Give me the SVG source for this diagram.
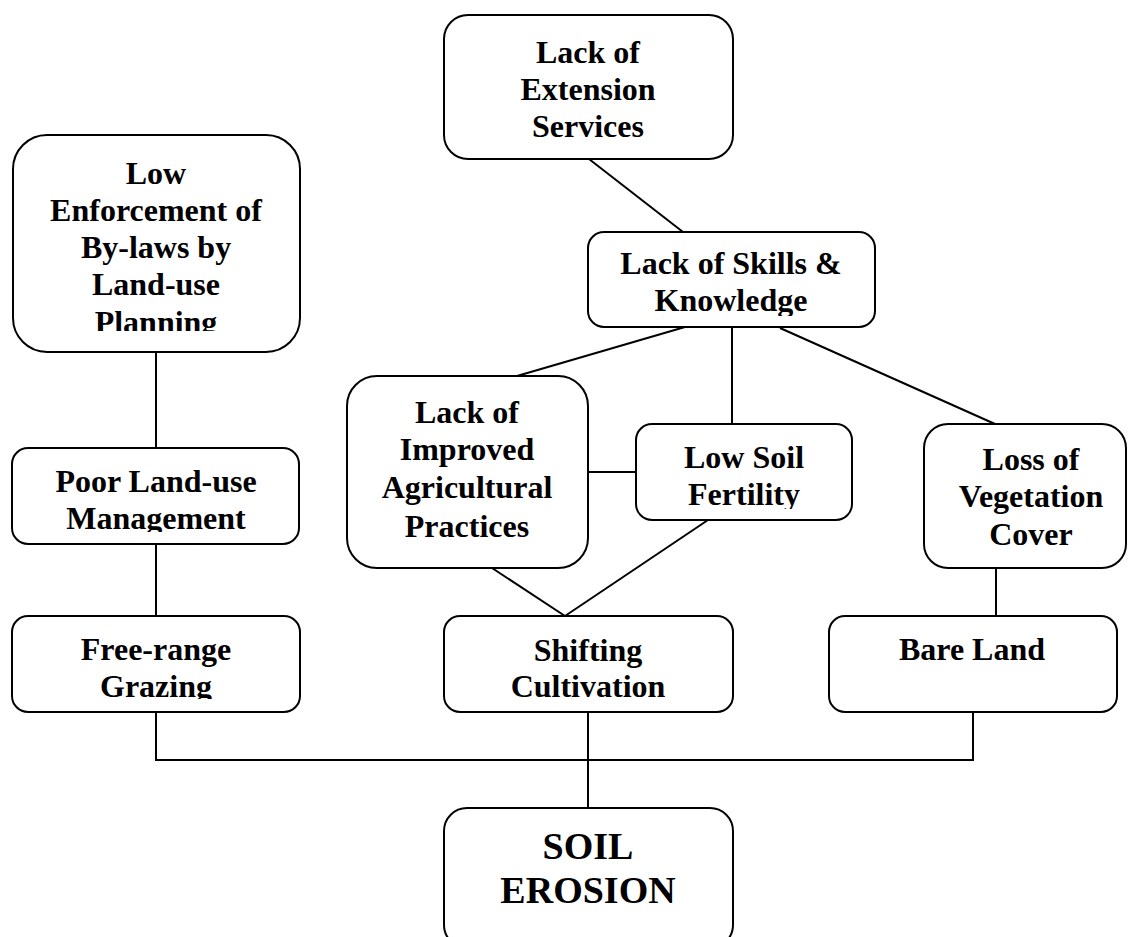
<svg xmlns="http://www.w3.org/2000/svg" width="1128" height="937" viewBox="0 0 1128 937">
<style>
.box{fill:#fff;stroke:#000;stroke-width:2}
.t{font-family:"Liberation Serif","Times New Roman",serif;font-weight:bold;font-size:32px;fill:#000;text-anchor:middle}
.big{font-size:38px}
.c{fill:none;stroke:#000;stroke-width:2}
</style>
<defs>
<clipPath id="cpLE"><rect x="0" y="130" width="320" height="201"/></clipPath>
<clipPath id="cpSK"><rect x="580" y="225" width="300" height="91"/></clipPath>
<clipPath id="cpLS"><rect x="630" y="420" width="230" height="89"/></clipPath>
<clipPath id="cpPL"><rect x="0" y="440" width="320" height="92"/></clipPath>
<clipPath id="cpFR"><rect x="0" y="610" width="320" height="89"/></clipPath>
</defs>
<rect width="1128" height="937" fill="#fff"/>
<g id="connectors">
<line class="c" x1="589" y1="159" x2="683" y2="232"/>
<line class="c" x1="156" y1="352" x2="156" y2="448"/>
<line class="c" x1="156" y1="544" x2="156" y2="616"/>
<line class="c" x1="685" y1="327" x2="517" y2="376"/>
<line class="c" x1="732" y1="327" x2="732" y2="424"/>
<line class="c" x1="780" y1="328" x2="995" y2="424"/>
<line class="c" x1="588" y1="472" x2="636" y2="472"/>
<line class="c" x1="492" y1="568" x2="565" y2="616"/>
<line class="c" x1="708" y1="520" x2="565" y2="616"/>
<line class="c" x1="996" y1="568" x2="996" y2="616"/>
<polyline class="c" points="156,712 156,760 973,760 973,712"/>
<line class="c" x1="588" y1="712" x2="588" y2="808"/>
</g>
<g id="n-extension">
<rect class="box" x="444" y="15" width="289" height="144" rx="24"/>
<text class="t" x="588" y="63">Lack of</text>
<text class="t" x="588" y="100">Extension</text>
<text class="t" x="588" y="137">Services</text>
</g>
<g id="n-enforcement">
<rect class="box" x="13" y="135" width="287" height="217" rx="34"/>
<g clip-path="url(#cpLE)">
<text class="t" x="156" y="184">Low</text>
<text class="t" x="156" y="221">Enforcement of</text>
<text class="t" x="156" y="258">By-laws by</text>
<text class="t" x="156" y="295">Land-use</text>
<text class="t" x="156" y="333">Planning</text>
</g>
</g>
<g id="n-skills">
<rect class="box" x="588" y="232" width="287" height="95" rx="16"/>
<g clip-path="url(#cpSK)">
<text class="t" x="731" y="274">Lack of Skills &amp;</text>
<text class="t" x="731" y="311">Knowledge</text>
</g>
</g>
<g id="n-improved">
<rect class="box" x="347" y="376" width="241" height="192" rx="30"/>
<text class="t" x="467" y="423">Lack of</text>
<text class="t" x="467" y="460">Improved</text>
<text class="t" x="467" y="498">Agricultural</text>
<text class="t" x="467" y="537">Practices</text>
</g>
<g id="n-lowsoil">
<rect class="box" x="636" y="424" width="216" height="96" rx="16"/>
<g clip-path="url(#cpLS)">
<text class="t" x="744" y="468">Low Soil</text>
<text class="t" x="744" y="505">Fertility</text>
</g>
</g>
<g id="n-vegetation">
<rect class="box" x="924" y="424" width="202" height="144" rx="24"/>
<text class="t" x="1031" y="470">Loss of</text>
<text class="t" x="1031" y="507">Vegetation</text>
<text class="t" x="1031" y="545">Cover</text>
</g>
<g id="n-poorlanduse">
<rect class="box" x="12" y="448" width="287" height="96" rx="16"/>
<g clip-path="url(#cpPL)">
<text class="t" x="156" y="492">Poor Land-use</text>
<text class="t" x="156" y="529">Management</text>
</g>
</g>
<g id="n-freerange">
<rect class="box" x="12" y="616" width="288" height="96" rx="16"/>
<g clip-path="url(#cpFR)">
<text class="t" x="156" y="660">Free-range</text>
<text class="t" x="156" y="697">Grazing</text>
</g>
</g>
<g id="n-shifting">
<rect class="box" x="444" y="616" width="289" height="96" rx="16"/>
<text class="t" x="588" y="661">Shifting</text>
<text class="t" x="588" y="697">Cultivation</text>
</g>
<g id="n-bareland">
<rect class="box" x="829" y="616" width="288" height="96" rx="16"/>
<text class="t" x="972" y="660">Bare Land</text>
</g>
<g id="n-soilerosion">
<rect class="box" x="444" y="808" width="289" height="140" rx="23"/>
<text class="t big" x="588" y="859">SOIL</text>
<text class="t big" x="588" y="903">EROSION</text>
</g>
</svg>
